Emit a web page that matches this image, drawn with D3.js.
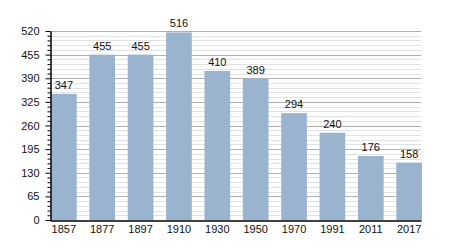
<!DOCTYPE html>
<html>
<head>
<meta charset="utf-8">
<script src="https://cdn.jsdelivr.net/npm/d3@7"></script>
<style>
  body { margin: 0; background: #fff; }
  text { font-family: 'Liberation Sans', Arial, sans-serif; font-size: 11px; fill: #111; }
</style>
</head>
<body>
<svg id="chart" width="450" height="250"></svg>
<script>
const years = ['1857', '1877', '1897', '1910', '1930', '1950', '1970', '1991', '2011', '2017'];
const population = [347, 455, 455, 516, 410, 389, 294, 240, 176, 158];
const yTicks = [0, 65, 130, 195, 260, 325, 390, 455, 520];

const plotLeft = 50, plotRight = 421, plotTop = 31, plotBottom = 220;

const svg = d3.select('#chart');

const x = d3.scaleBand().domain(years).range([plotLeft, plotRight]).paddingInner(0.33).paddingOuter(0);
const y = d3.scaleLinear().domain([0, 520]).range([plotBottom, plotTop]);

// minor grid every 13
const minor = d3.range(0, 521, 13).filter(v => v % 65 !== 0);
svg.append('g')
  .selectAll('line')
  .data(minor)
  .join('line')
  .attr('x1', plotLeft).attr('x2', plotRight)
  .attr('y1', d => Math.round(y(d)) + 0.5).attr('y2', d => Math.round(y(d)) + 0.5)
  .attr('stroke', '#e2e2e2');

svg.append('g')
  .selectAll('line')
  .data(yTicks.filter(v => v > 0))
  .join('line')
  .attr('x1', plotLeft).attr('x2', plotRight)
  .attr('y1', d => Math.round(y(d)) + 0.5).attr('y2', d => Math.round(y(d)) + 0.5)
  .attr('stroke', '#b0b0b0');

// bars
svg.append('g')
  .selectAll('rect')
  .data(population)
  .join('rect')
  .attr('x', (d, i) => x(years[i]) + 1)
  .attr('width', x.bandwidth())
  .attr('y', d => y(d))
  .attr('height', d => y(0) - y(d))
  .attr('fill', '#9ab3cf');

svg.append('g')
  .selectAll('text')
  .data(population)
  .join('text')
  .attr('x', (d, i) => x(years[i]) + 1 + x.bandwidth() / 2)
  .attr('y', d => y(d) - 5)
  .attr('text-anchor', 'middle')
  .text(d => d);

// y axis: minor ticks then major
svg.append('g')
  .attr('transform', `translate(${plotLeft + 0.5},0)`)
  .call(d3.axisLeft(y).tickValues(minor).tickSize(3).tickFormat(''))
  .call(g => g.select('.domain').remove())
  .call(g => g.selectAll('line').attr('stroke', '#000'));

svg.append('g')
  .attr('transform', `translate(${plotLeft + 0.5},0)`)
  .call(d3.axisLeft(y).tickValues(yTicks).tickSize(5).tickSizeOuter(0).tickPadding(6))
  .call(g => g.select('.domain').attr('stroke', '#000').attr('stroke-width', 1.5))
  .call(g => g.selectAll('line').attr('stroke', '#000'))
  .call(g => g.selectAll('text').attr('fill', '#111').style('font-size', '11px').style('font-family', "'Liberation Sans', Arial, sans-serif"));

// x axis
svg.append('g')
  .attr('transform', `translate(0,${plotBottom + 0.5})`)
  .call(d3.axisBottom(x).tickSize(0).tickSizeOuter(0).tickPadding(5))
  .call(g => g.select('.domain').attr('stroke', '#000').attr('stroke-width', 1.5))
  .call(g => g.selectAll('text').attr('fill', '#111').attr('dx', 1).style('font-size', '11px').style('font-family', "'Liberation Sans', Arial, sans-serif"));
</script>
</body>
</html>
